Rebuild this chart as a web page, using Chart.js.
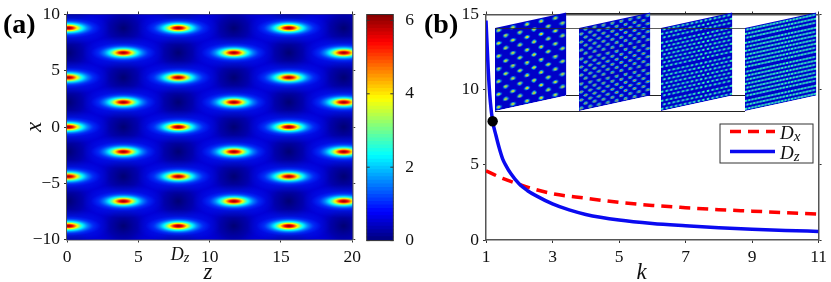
<!DOCTYPE html>
<html>
<head>
<meta charset="utf-8">
<script src="https://cdn.jsdelivr.net/npm/chart.js@4"></script>
<style>
  html, body { margin: 0; background: #fff; overflow: hidden; }
  #page { position: relative; width: 831px; height: 282px; }
  canvas { position: absolute; display: block; }
  .rule { position: absolute; height: 1px; background: #222; }
</style>
</head>
<body>
<div id="page">
  <canvas id="mapChart" width="365" height="282" style="left:0;top:0"></canvas>
  <canvas id="barChart" width="60" height="282" style="left:360px;top:0"></canvas>
  <canvas id="lineChart" width="411" height="282" style="left:420px;top:0"></canvas>
</div>
<script>
// panel (a): peak and hole lattice
const evenRows = [8.8, 4.4, 0, -4.4, -8.8];
const oddRows = [6.6, 2.2, -2.2, -6.6];
const evenCols = [0.1, 7.8, 15.55];
const oddCols = [3.95, 11.7, 19.4];
const holeRowsEdge = [10.6, -10.6];
const zTicks = [0, 5, 10, 15, 20];
const xTicks = [-10, -5, 0, 5, 10];
const barTicks = [0, 2, 4, 6];
const barMax = 6.16;
const dzMark = 8.05;

// panel (b)
const kTicks = [1, 3, 5, 7, 9, 11];
const dTicks = [0, 5, 10, 15];
const kDx = [1, 1.5, 2, 2.5, 3, 4, 5, 6, 7, 8, 9, 10, 11];
const dxValues = [4.6, 4.1, 3.7, 3.35, 3.08, 2.78, 2.5, 2.3, 2.15, 2.02, 1.92, 1.82, 1.73];
const kDz = [1, 1.07, 1.13, 1.2, 1.3, 1.4, 1.5, 1.6, 1.75, 2, 2.25, 2.5, 3, 3.5, 4, 5, 6, 7, 8, 9, 10, 11];
const dzValues = [14.6, 11.2, 9.2, 7.9, 6.95, 6.1, 5.4, 4.95, 4.4, 3.72, 3.28, 2.95, 2.4, 2.0, 1.7, 1.33, 1.1, 0.95, 0.82, 0.72, 0.64, 0.57];
const dotK = [1.2];
const dotD = [7.9];

// inset thumbnails: rows and half columns counted in each one
const insetRows = [13, 20, 20, 20];
const insetCols = [9, 15, 30, 42];

const serif = '"Liberation Serif", "Times New Roman", serif';
const frameColor = '#555';

function cross(cols, rows) {
  const pts = [];
  cols.forEach(z => rows.forEach(x => pts.push({ x: z, y: x })));
  return pts;
}

function sprite(w, h, stops) {
  const c = document.createElement('canvas');
  c.width = w;
  c.height = h;
  const ctx = c.getContext('2d');
  ctx.translate(w / 2, h / 2);
  ctx.scale(w / 2, h / 2);
  const g = ctx.createRadialGradient(0, 0, 0, 0, 0, 1);
  stops.forEach(s => g.addColorStop(s[0], s[1]));
  ctx.fillStyle = g;
  ctx.fillRect(-1, -1, 2, 2);
  return c;
}

const peakStops = [
  [0, '#7a0000'], [0.06, '#b00000'], [0.13, '#ff0000'], [0.2, '#ff8000'], [0.27, '#ffff00'],
  [0.34, '#80ff80'], [0.43, '#00ffff'], [0.56, '#0090ff'], [0.76, 'rgba(0,60,255,0.6)'], [1, 'rgba(0,40,255,0)']
];
const haloStops = [[0, 'rgba(0,70,255,0.8)'], [0.55, 'rgba(0,40,255,0.45)'], [1, 'rgba(0,30,255,0)']];
const holeStops = [[0, 'rgba(0,0,115,1)'], [0.5, 'rgba(0,0,155,0.7)'], [1, 'rgba(0,0,210,0)']];

function jet(t) {
  const f = v => Math.round(255 * Math.max(0, Math.min(1, v)));
  return `rgb(${f(1.5 - Math.abs(4 * t - 3))},${f(1.5 - Math.abs(4 * t - 2))},${f(1.5 - Math.abs(4 * t - 1))})`;
}

function fixedSize(size) {
  return scale => {
    if (scale.isHorizontal()) scale.height = size;
    else scale.width = size;
  };
}

function setTicks(values) {
  return scale => { scale.ticks = values.map(v => ({ value: v })); };
}

function axis(position, size, min, max, values, extra) {
  const showLabels = position === 'left' || position === 'bottom';
  return Object.assign({
    type: 'linear',
    position: position,
    min: min,
    max: max,
    axis: position === 'left' || position === 'right' ? 'y' : 'x',
    afterBuildTicks: setTicks(values),
    afterFit: fixedSize(size),
    border: { color: frameColor, width: 1.5 },
    grid: { drawOnChartArea: false, tickLength: 3, tickColor: '#333', tickWidth: 1 },
    ticks: {
      display: showLabels,
      color: '#111',
      padding: 4,
      maxRotation: 0,
      autoSkip: false,
      font: { family: serif, size: 17.5 },
      callback: v => String(v).replace('-', '\u2212')
    }
  }, extra || {});
}

function subText(ctx, x, y, sub, size) {
  ctx.fillStyle = '#111';
  ctx.textAlign = 'left';
  ctx.textBaseline = 'alphabetic';
  ctx.font = `italic ${size}px ${serif}`;
  ctx.fillText('D', x, y);
  const w = ctx.measureText('D').width;
  ctx.font = `italic ${size * 0.8}px ${serif}`;
  ctx.fillText(sub, x + w, y + 1.5);
}

function panelLabel(text, x, y) {
  return {
    id: 'panelLabel',
    afterDraw(chart) {
      const ctx = chart.ctx;
      ctx.save();
      ctx.fillStyle = '#000';
      ctx.textAlign = 'left';
      ctx.textBaseline = 'alphabetic';
      ctx.font = `bold 28px ${serif}`;
      ctx.fillText(text, x, y);
      ctx.restore();
    }
  };
}

// the axis letters in the reference sit off centre, so they go by hand
function axisLetter(text, x, y) {
  return {
    id: 'axisLetter',
    afterDraw(chart) {
      const ctx = chart.ctx;
      ctx.save();
      ctx.fillStyle = '#111';
      ctx.textAlign = 'center';
      ctx.textBaseline = 'alphabetic';
      ctx.font = `italic 23px ${serif}`;
      ctx.fillText(text, x, y);
      ctx.restore();
    }
  };
}

const flat = { legend: { display: false }, tooltip: { enabled: false } };
const noPad = { padding: 0, autoPadding: false };

// (a) heat map, built up from point sprites placed by the scales
const peakImg = sprite(66, 20, peakStops);
const haloImg = sprite(84, 34, haloStops);
const holeImg = sprite(58, 52, holeStops);
const holes = cross(oddCols, evenRows).concat(cross(evenCols, oddRows), cross(evenCols, holeRowsEdge));
const peaks = cross(evenCols, evenRows).concat(cross(oddCols, oddRows));

new Chart(document.getElementById('mapChart'), {
  type: 'scatter',
  data: {
    datasets: [
      { data: peaks, pointStyle: peakImg, pointRadius: 35, order: 1, clip: 0 },
      { data: peaks, pointStyle: haloImg, pointRadius: 45, order: 2, clip: 0 },
      { data: holes, pointStyle: holeImg, pointRadius: 40, order: 3, clip: 0 }
    ]
  },
  options: {
    responsive: false,
    animation: false,
    devicePixelRatio: 1,
    events: [],
    layout: noPad,
    plugins: flat,
    scales: {
      x: axis('bottom', 42.5, 0, 20, zTicks),
      xTop: axis('top', 8.5, 0, 20, zTicks),
      y: axis('left', 67, -10, 10, xTicks, {
        title: {
          display: true,
          text: 'x',
          color: '#111',
          padding: { top: 21, bottom: 0 },
          font: { family: serif, size: 23, style: 'italic' }
        }
      }),
      yRight: axis('right', 12.3, -10, 10, xTicks)
    }
  },
  plugins: [
    {
      id: 'mapBack',
      beforeDatasetsDraw(chart) {
        const a = chart.chartArea;
        chart.ctx.fillStyle = '#0000d8';
        chart.ctx.fillRect(a.left, a.top, a.width, a.height);
      }
    },
    {
      id: 'dzMark',
      afterDraw(chart) {
        const ctx = chart.ctx;
        const px = chart.scales.x.getPixelForValue(dzMark);
        ctx.save();
        subText(ctx, px - 11, 260, 'z', 18);
        ctx.restore();
      }
    },
    axisLetter('z', 208, 279),
    panelLabel('(a)', 3, 33)
  ]
});

// colour bar, one floating bar per colour level
const barLevels = 64;
const barSets = [];
for (let i = 0; i < barLevels; i++) {
  barSets.push({
    data: [[i * barMax / barLevels, (i + 1) * barMax / barLevels + 0.01]],
    backgroundColor: jet((i + 0.5) / barLevels),
    grouped: false,
    barPercentage: 1,
    categoryPercentage: 1,
    borderWidth: 0
  });
}

new Chart(document.getElementById('barChart'), {
  type: 'bar',
  data: { labels: ['level'], datasets: barSets },
  options: {
    responsive: false,
    animation: false,
    devicePixelRatio: 1,
    events: [],
    layout: { autoPadding: false, padding: { left: 6.7, top: 9, bottom: 41.4, right: 0 } },
    plugins: flat,
    scales: {
      x: { display: false },
      y: {
        position: 'right',
        min: 0,
        max: barMax,
        afterBuildTicks: setTicks(barTicks),
        afterFit: fixedSize(26.7),
        border: { display: false },
        grid: { display: false },
        ticks: { color: '#111', padding: 4, font: { family: serif, size: 17.5 } }
      }
    }
  },
  plugins: [{
    id: 'barFrame',
    afterDraw(chart) {
      const ctx = chart.ctx;
      const a = chart.chartArea;
      ctx.save();
      ctx.strokeStyle = '#333';
      ctx.lineWidth = 1;
      ctx.strokeRect(a.left, a.top, a.width, a.height);
      barTicks.forEach(v => {
        const py = chart.scales.y.getPixelForValue(v);
        ctx.beginPath();
        ctx.moveTo(a.left, py);
        ctx.lineTo(a.left + 3, py);
        ctx.moveTo(a.right - 3, py);
        ctx.lineTo(a.right, py);
        ctx.stroke();
      });
      ctx.restore();
    }
  }]
});

// (b) curves
const zip = (xs, ys) => xs.map((x, i) => ({ x: x, y: ys[i] }));
const redLine = '#ff0000';
const blueLine = '#0a0af0';

new Chart(document.getElementById('lineChart'), {
  type: 'scatter',
  data: {
    datasets: [
      { data: zip(dotK, dotD), pointRadius: 5.2, pointBackgroundColor: '#000', pointBorderWidth: 0, order: 1 },
      { data: zip(kDz, dzValues), showLine: true, borderColor: blueLine, borderWidth: 3.5, pointRadius: 0, cubicInterpolationMode: 'monotone', order: 2 },
      { data: zip(kDx, dxValues), showLine: true, borderColor: redLine, borderWidth: 3.5, borderDash: [11, 7], pointRadius: 0, cubicInterpolationMode: 'monotone', order: 3 }
    ]
  },
  options: {
    responsive: false,
    animation: false,
    devicePixelRatio: 1,
    events: [],
    layout: noPad,
    plugins: flat,
    scales: {
      x: axis('bottom', 42, 1, 11, kTicks),
      xTop: axis('top', 8.5, 1, 11, kTicks),
      y: axis('left', 66, 0, 15, dTicks),
      yRight: axis('right', 9.3, 0, 15, dTicks)
    }
  },
  plugins: [
    {
      id: 'legendBox',
      afterDraw(chart) {
        const ctx = chart.ctx;
        ctx.save();
        ctx.fillStyle = '#fff';
        ctx.fillRect(300, 124, 93, 39);
        ctx.strokeStyle = '#333';
        ctx.lineWidth = 1;
        ctx.strokeRect(300, 124, 93, 39);
        ctx.lineWidth = 3.5;
        ctx.strokeStyle = redLine;
        ctx.setLineDash([11, 7]);
        ctx.beginPath();
        ctx.moveTo(310, 131.5);
        ctx.lineTo(355, 131.5);
        ctx.stroke();
        ctx.strokeStyle = blueLine;
        ctx.setLineDash([]);
        ctx.beginPath();
        ctx.moveTo(310, 151.5);
        ctx.lineTo(355, 151.5);
        ctx.stroke();
        subText(ctx, 360, 139, 'x', 19);
        subText(ctx, 360, 159, 'z', 19);
        ctx.restore();
      }
    },
    axisLetter('k', 221.7, 279),
    panelLabel('(b)', 4, 33)
  ]
});

// inset: frame rules and the four skewed thumbnails
const page = document.getElementById('page');

function rule(left, top, width, color) {
  const d = document.createElement('div');
  d.className = 'rule';
  d.style.cssText = `left:${left}px;top:${top}px;width:${width}px;background:${color}`;
  page.appendChild(d);
}

rule(566, 13, 250, '#222');
rule(566, 95, 179, '#222');
rule(495, 111, 250, '#222');

const panelLeft = [495, 579, 661.3, 745];
const spriteW = [6, 5, 4, 4];
const spriteH = [4, 3, 2, 2];
const smallStops = [[0, '#ff2000'], [0.3, '#ffd000'], [0.55, '#40ffb0'], [0.8, 'rgba(0,190,255,0.8)'], [1, 'rgba(0,80,255,0)']];

insetRows.forEach((rows, p) => {
  const cols = insetCols[p];
  const pts = [];
  for (let r = 0; r < rows; r++) {
    for (let c = r % 2; c <= cols; c += 2) pts.push({ x: c, y: r + 0.5 });
  }
  const cv = document.createElement('canvas');
  cv.width = 71;
  cv.height = 83;
  cv.style.cssText = `left:${panelLeft[p]}px;top:28.4px;transform-origin:0 0;transform:skewY(-12.2deg)`;
  page.appendChild(cv);
  new Chart(cv, {
    type: 'scatter',
    data: { datasets: [{ data: pts, pointStyle: sprite(spriteW[p], spriteH[p], smallStops), pointRadius: 4, clip: 0 }] },
    options: {
      responsive: false,
      animation: false,
      devicePixelRatio: 1,
      events: [],
      layout: noPad,
      plugins: flat,
      scales: {
        x: { display: false, type: 'linear', min: -0.5, max: cols + 0.5 },
        y: { display: false, type: 'linear', min: 0, max: rows }
      }
    },
    plugins: [{
      id: 'thumbBack',
      beforeDatasetsDraw(chart) {
        chart.ctx.fillStyle = '#0000c8';
        chart.ctx.fillRect(0, 0, 71, 83);
      }
    }]
  });
});

rule(495, 28, 250, 'rgba(40,40,40,0.75)');
</script>
</body>
</html>
